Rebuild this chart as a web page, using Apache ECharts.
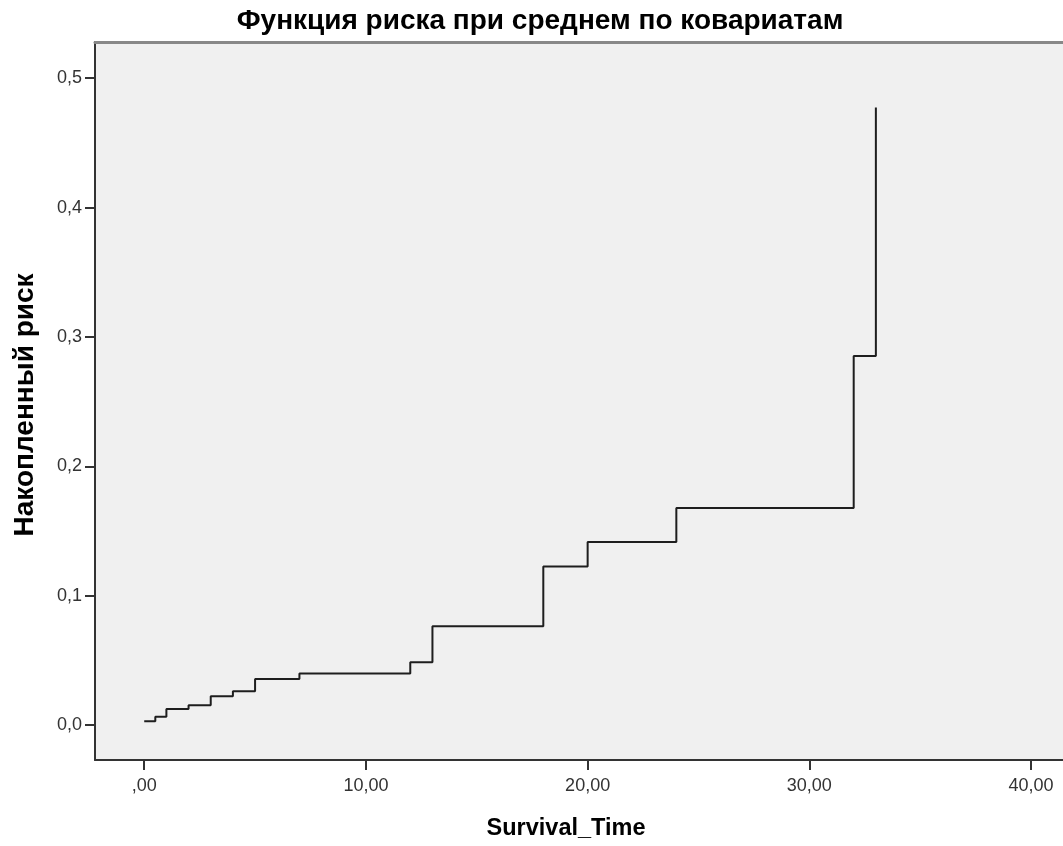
<!DOCTYPE html>
<html>
<head>
<meta charset="utf-8">
<script src="https://cdn.jsdelivr.net/npm/echarts@6/dist/echarts.min.js"></script>
<style>
html,body{margin:0;padding:0;background:#fff;}
#chart{width:1063px;height:846px;}
</style>
</head>
<body>
<div id="chart"></div>
<script>
var titleText = 'Функция риска при среднем по ковариатам';
var xName = 'Survival_Time';
var yName = 'Накопленный риск';
var times = [0, 0.5, 1, 2, 3, 4, 5, 7, 12, 13, 18, 20, 24, 32, 33];
var hazard = [0.003, 0.0065, 0.0125, 0.0153, 0.0222, 0.0261, 0.0357, 0.0398, 0.0485, 0.0763, 0.1226, 0.1415, 0.1677, 0.2853, 0.4774];
var xTicks = [0, 10, 20, 30, 40];
var yTicks = [0, 0.1, 0.2, 0.3, 0.4, 0.5];

var FONT = 'Arial, "Liberation Sans", sans-serif';
var chart = echarts.init(document.getElementById('chart'), null, {renderer:'canvas'});
var pts = times.map(function(t, i){ return [t, hazard[i]]; });

function fmtX(v){
  var s = v.toFixed(2).replace('.', ',');
  if (v === 0) s = ',00';
  return s;
}
function fmtY(v){ return v.toFixed(1).replace('.', ','); }

chart.setOption({
  animation: false,
  backgroundColor: '#ffffff',
  grid: {left: 95, top: 42, right: 0, bottom: 86, show: true, backgroundColor: '#f0f0f0', borderWidth: 0},
  xAxis: [{
    type: 'value', min: -2.22, max: 41.44,
    axisLine: {show: true, onZero: false, lineStyle: {color: '#333', width: 2}},
    axisTick: {show: true, length: 10, customValues: xTicks, lineStyle: {color: '#333', width: 2}},
    axisLabel: {customValues: xTicks, formatter: fmtX, margin: 17, color: '#333', fontSize: 18, fontFamily: FONT},
    splitLine: {show: false}
  }, {
    type: 'value', position: 'top', min: -2.22, max: 41.44,
    axisLine: {show: true, onZero: false, lineStyle: {color: '#888', width: 3}},
    axisTick: {show: false}, axisLabel: {show: false}, splitLine: {show: false}
  }],
  yAxis: {
    type: 'value', min: -0.027, max: 0.528,
    axisLine: {show: true, onZero: false, lineStyle: {color: '#333', width: 2}},
    axisTick: {show: true, length: 10, customValues: yTicks, lineStyle: {color: '#333', width: 2}},
    axisLabel: {customValues: yTicks, formatter: fmtY, margin: 13, color: '#333', fontSize: 18, fontFamily: FONT},
    splitLine: {show: false}
  },
  series: [{
    type: 'line', xAxisIndex: 0, data: pts, step: 'end', showSymbol: false, symbol: 'none',
    lineStyle: {color: '#1e1e1e', width: 2}
  }],
  graphic: [
    {type: 'text', x: 540, y: 21, style: {text: titleText, textAlign: 'center', textVerticalAlign: 'middle', font: 'bold 28px ' + FONT, fill: '#000'}},
    {type: 'text', x: 566, y: 829, style: {text: xName, textAlign: 'center', textVerticalAlign: 'middle', font: 'bold 23.5px ' + FONT, fill: '#000'}},
    {type: 'text', x: 25, y: 405, rotation: Math.PI / 2, style: {text: yName, textAlign: 'center', textVerticalAlign: 'middle', font: 'bold 28px ' + FONT, fill: '#000'}}
  ]
});
</script>
</body>
</html>
